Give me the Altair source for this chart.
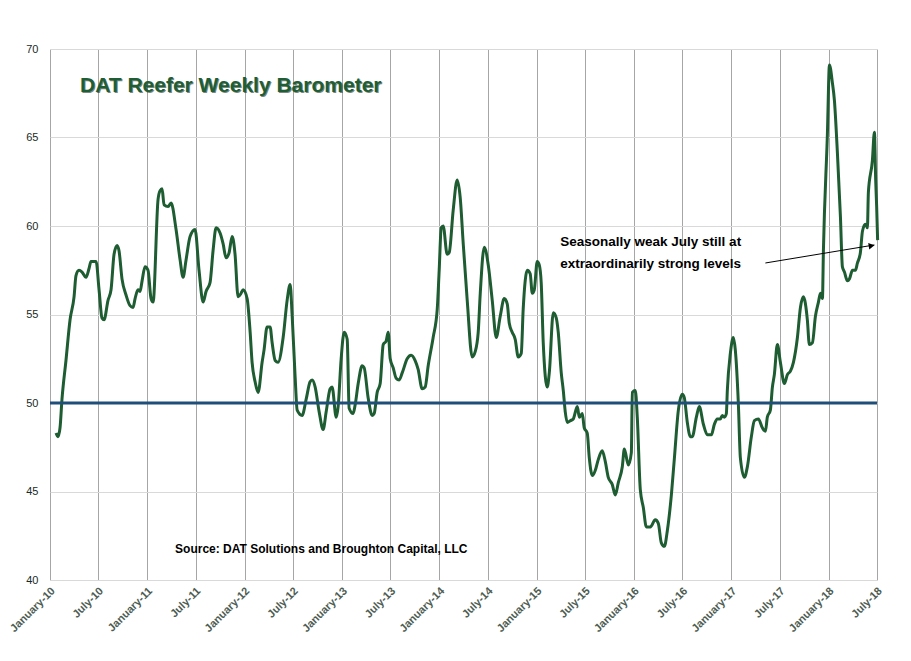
import altair as alt
import pandas as pd

# Decimal-year positions and index values
years = [
    2010.062, 2010.082, 2010.103, 2010.123, 2010.164, 2010.206, 2010.247, 2010.267, 2010.298, 2010.329,
    2010.370, 2010.401, 2010.421, 2010.473, 2010.504, 2010.534, 2010.555, 2010.596, 2010.627, 2010.658,
    2010.689, 2010.709, 2010.740, 2010.781, 2010.822, 2010.853, 2010.874, 2010.904, 2010.925, 2010.946,
    2010.976, 2011.007, 2011.038, 2011.059, 2011.110, 2011.131, 2011.151, 2011.172, 2011.213, 2011.244,
    2011.295, 2011.336, 2011.367, 2011.398, 2011.439, 2011.490, 2011.531, 2011.573, 2011.603, 2011.644,
    2011.675, 2011.706, 2011.747, 2011.778, 2011.809, 2011.840, 2011.871, 2011.901, 2011.932, 2011.963,
    2011.984, 2012.025, 2012.056, 2012.076, 2012.107, 2012.138, 2012.179, 2012.199, 2012.230, 2012.261,
    2012.282, 2012.313, 2012.343, 2012.395, 2012.436, 2012.467, 2012.487, 2012.518, 2012.539, 2012.590,
    2012.631, 2012.672, 2012.693, 2012.724, 2012.765, 2012.806, 2012.837, 2012.878, 2012.898, 2012.940,
    2012.960, 2012.991, 2013.022, 2013.053, 2013.073, 2013.114, 2013.135, 2013.166, 2013.207, 2013.227,
    2013.268, 2013.310, 2013.330, 2013.361, 2013.392, 2013.423, 2013.453, 2013.474, 2013.495, 2013.525,
    2013.556, 2013.587, 2013.618, 2013.669, 2013.710, 2013.751, 2013.782, 2013.823, 2013.854, 2013.885,
    2013.936, 2013.978, 2013.998, 2014.019, 2014.039, 2014.080, 2014.101, 2014.142, 2014.183, 2014.214,
    2014.245, 2014.286, 2014.337, 2014.368, 2014.399, 2014.420, 2014.461, 2014.502, 2014.543, 2014.584,
    2014.625, 2014.666, 2014.697, 2014.718, 2014.748, 2014.779, 2014.810, 2014.841, 2014.861, 2014.903,
    2014.933, 2014.954, 2014.975, 2015.005, 2015.026, 2015.046, 2015.067, 2015.108, 2015.129, 2015.170,
    2015.201, 2015.221, 2015.252, 2015.273, 2015.293, 2015.314, 2015.345, 2015.375, 2015.417, 2015.437,
    2015.468, 2015.488, 2015.519, 2015.540, 2015.571, 2015.602, 2015.632, 2015.673, 2015.704, 2015.735,
    2015.776, 2015.807, 2015.838, 2015.879, 2015.900, 2015.941, 2015.972, 2015.982, 2016.013, 2016.033,
    2016.064, 2016.095, 2016.126, 2016.167, 2016.218, 2016.249, 2016.280, 2016.311, 2016.342, 2016.383,
    2016.413, 2016.455, 2016.496, 2016.516, 2016.547, 2016.578, 2016.598, 2016.640, 2016.670, 2016.712,
    2016.753, 2016.794, 2016.825, 2016.855, 2016.886, 2016.907, 2016.927, 2016.948, 2016.958, 2016.989,
    2017.020, 2017.040, 2017.071, 2017.092, 2017.133, 2017.164, 2017.205, 2017.236, 2017.277, 2017.318,
    2017.349, 2017.369, 2017.400, 2017.421, 2017.441, 2017.472, 2017.503, 2017.544, 2017.575, 2017.606,
    2017.637, 2017.678, 2017.709, 2017.739, 2017.780, 2017.801, 2017.832, 2017.863, 2017.894, 2017.914,
    2017.935, 2017.945, 2017.986, 2018.007, 2018.037, 2018.058, 2018.089, 2018.120, 2018.140, 2018.161,
    2018.192, 2018.212, 2018.243, 2018.274, 2018.294, 2018.325, 2018.346, 2018.376, 2018.397, 2018.407,
    2018.448, 2018.469, 2018.482, 2018.492, 2018.502,
]
values = [
    48.3, 48.1, 48.6, 50.2, 52.4, 54.7, 56.0, 57.2, 57.5, 57.4,
    57.1, 57.6, 58.0, 58.0, 56.4, 54.8, 54.7, 55.8, 56.4, 58.4,
    58.9, 58.6, 57.0, 56.1, 55.5, 55.4, 55.9, 56.4, 56.3, 56.9,
    57.7, 57.5, 55.9, 55.7, 61.5, 62.0, 62.1, 61.2, 61.1, 61.3,
    59.8, 58.1, 57.1, 58.1, 59.4, 59.8, 57.5, 55.7, 56.3, 56.8,
    58.6, 59.9, 59.6, 59.0, 58.2, 58.5, 59.4, 58.4, 56.0, 56.2,
    56.4, 55.9, 54.0, 52.3, 51.2, 50.6, 52.3, 53.0, 54.3, 54.3,
    53.4, 52.4, 52.3, 53.7, 55.8, 56.7, 55.0, 51.5, 49.6, 49.3,
    50.2, 51.2, 51.3, 50.9, 49.5, 48.5, 49.5, 50.8, 50.9, 49.2,
    49.8, 52.5, 54.0, 53.6, 49.7, 49.4, 49.9, 51.1, 52.1, 52.0,
    50.3, 49.3, 49.4, 50.6, 51.1, 53.3, 53.5, 54.0, 52.5, 52.0,
    51.4, 51.3, 51.7, 52.5, 52.7, 52.4, 51.9, 50.8, 50.9, 52.1,
    53.7, 55.3, 57.5, 59.9, 60.0, 58.4, 58.5, 60.9, 62.6, 61.6,
    59.0, 55.8, 52.6, 52.9, 54.0, 56.2, 58.8, 57.8, 55.8, 53.7,
    54.9, 55.9, 55.6, 54.5, 54.0, 53.6, 52.6, 52.8, 55.3, 57.5,
    57.3, 56.2, 56.4, 58.0, 57.8, 56.8, 53.4, 50.9, 51.7, 55.1,
    54.8, 54.0, 51.7, 50.7, 49.5, 48.9, 49.0, 49.1, 49.8, 49.2,
    49.4, 48.6, 48.3, 46.9, 45.9, 46.2, 46.8, 47.3, 46.7, 45.8,
    45.4, 44.8, 45.5, 46.4, 47.4, 46.5, 47.2, 50.6, 50.7, 49.2,
    45.1, 44.1, 43.0, 43.0, 43.4, 43.2, 42.1, 41.9, 42.8, 44.8,
    46.8, 49.6, 50.5, 50.3, 48.9, 48.1, 48.1, 49.2, 49.8, 48.8,
    48.2, 48.2, 48.8, 49.1, 49.1, 49.3, 49.2, 49.4, 50.7, 52.8,
    53.7, 53.0, 50.0, 46.9, 45.8, 46.4, 48.1, 49.0, 49.1, 48.6,
    48.4, 49.2, 49.6, 50.9, 51.6, 53.3, 52.3, 51.1, 51.6, 51.8,
    52.3, 53.7, 55.4, 56.0, 54.7, 53.3, 53.4, 54.9, 55.7, 56.2,
    55.9, 58.6, 65.2, 69.1, 68.1, 67.1, 64.1, 60.5, 57.7, 57.4,
    56.9, 57.0, 57.5, 57.5, 57.9, 58.5, 59.7, 60.1, 59.9, 61.9,
    63.7, 65.3, 62.6, 61.1, 59.2,
]

threshold = [50]
title_text = ["DAT Reefer Weekly Barometer"]
title_pos = [2010.308, 67.57]
source_text = ["Source: DAT Solutions and Broughton Capital, LLC"]
source_pos = [2011.285, 41.53]
note_lines = ["Seasonally weak July still at", "extraordinarily strong levels"]
note_years = [2015.242, 2015.242]
note_values = [58.87, 57.60]
arrow_from = [2017.349, 57.91]
arrow_to = [2018.469, 58.93]
arrow_head = [2018.440, 58.88]


def to_date(t):
    base = pd.Timestamp("2010-01-01")
    return (base + pd.Timedelta(days=(t - 2010) * 365.25)).strftime("%Y-%m-%dT%H:%M:%S")


df = pd.DataFrame({"date": [to_date(t) for t in years], "value": values})
title_df = pd.DataFrame({"date": [to_date(title_pos[0])], "value": [title_pos[1]], "text": title_text})
source_df = pd.DataFrame({"date": [to_date(source_pos[0])], "value": [source_pos[1]], "text": source_text})
note_df = pd.DataFrame({"date": [to_date(t) for t in note_years], "value": note_values, "text": note_lines})
arrow_df = pd.DataFrame({"date": [to_date(arrow_from[0])], "value": [arrow_from[1]],
                         "date2": [to_date(arrow_to[0])], "value2": [arrow_to[1]]})
head_df = pd.DataFrame({"date": [to_date(arrow_head[0])], "value": [arrow_head[1]]})
thr_df = pd.DataFrame({"y": threshold})

tick_dates = []
for yr in range(2010, 2019):
    for mo in (1, 7):
        if yr == 2018 and mo > 7:
            continue
        tick_dates.append(alt.DateTime(year=yr, month=mo, date=1))

x_scale = alt.Scale(domain=[alt.DateTime(year=2010, month=1, date=1),
                            alt.DateTime(year=2018, month=7, date=1)])
y_scale = alt.Scale(domain=[40, 70], nice=False, zero=False)

x_enc = alt.X("date:T", scale=x_scale, title=None,
              axis=alt.Axis(values=tick_dates, format="%B-%y", labelAngle=-45,
                            labelAlign="right", labelBaseline="middle", labelPadding=9,
                            labelOffset=3,
                            labelFont="Liberation Sans", labelFontSize=11, labelFontWeight="bold",
                            labelColor="#4d5c52", ticks=False, domain=False,
                            grid=True, gridColor="#a6a6a6", gridWidth=1, labelOverlap=False))
y_enc = alt.Y("value:Q", scale=y_scale, title=None,
              axis=alt.Axis(values=[40, 45, 50, 55, 60, 65, 70], labelFont="Liberation Sans",
                            labelFontSize=11, labelColor="#1a2a26", ticks=False, domain=False,
                            grid=True, gridColor="#d9d9d9", gridWidth=1, labelPadding=12))

line = alt.Chart(df).mark_line(color="#1e5c32", strokeWidth=3, interpolate="monotone").encode(
    x=x_enc, y=y_enc)

rule50 = alt.Chart(thr_df).mark_rule(color="#1f4e79", strokeWidth=3).encode(y=alt.Y("y:Q", scale=y_scale))

title_shadow = alt.Chart(title_df).mark_text(align="left", baseline="alphabetic", font="Liberation Sans",
                                             fontSize=21, fontWeight="bold", color="#0d2616",
                                             opacity=0.55, dx=1, dy=1).encode(
    x=alt.X("date:T", scale=x_scale), y=alt.Y("value:Q", scale=y_scale), text="text:N")
title = alt.Chart(title_df).mark_text(align="left", baseline="alphabetic", font="Liberation Sans",
                                      fontSize=21, fontWeight="bold", color="#1f5e35").encode(
    x=alt.X("date:T", scale=x_scale), y=alt.Y("value:Q", scale=y_scale), text="text:N")

source = alt.Chart(source_df).mark_text(align="left", baseline="alphabetic", font="Liberation Sans",
                                        fontSize=12, fontWeight="bold", color="#000000").encode(
    x=alt.X("date:T", scale=x_scale), y=alt.Y("value:Q", scale=y_scale), text="text:N")

notes = alt.Chart(note_df).mark_text(align="left", baseline="alphabetic", font="Liberation Sans",
                                     fontSize=13.5, fontWeight="bold", color="#000000").encode(
    x=alt.X("date:T", scale=x_scale), y=alt.Y("value:Q", scale=y_scale), text="text:N")

arrow = alt.Chart(arrow_df).mark_rule(color="#000000", strokeWidth=1).encode(
    x=alt.X("date:T", scale=x_scale), y=alt.Y("value:Q", scale=y_scale),
    x2="date2:T", y2="value2:Q")

head = alt.Chart(head_df).mark_point(shape="triangle-right", filled=True, color="#000000",
                                     size=45, angle=350.6, opacity=1).encode(
    x=alt.X("date:T", scale=x_scale), y=alt.Y("value:Q", scale=y_scale))

chart = alt.layer(line, rule50, title_shadow, title, source, notes, arrow, head).properties(
    width=827, height=531,
    padding={"left": 42, "top": 41, "right": 20, "bottom": 60},
    autosize=alt.AutoSizeParams(type="none"),
    background="#ffffff",
).configure_view(stroke=None)

chart.save("out.html", embed_options={"renderer": "svg", "actions": False})
